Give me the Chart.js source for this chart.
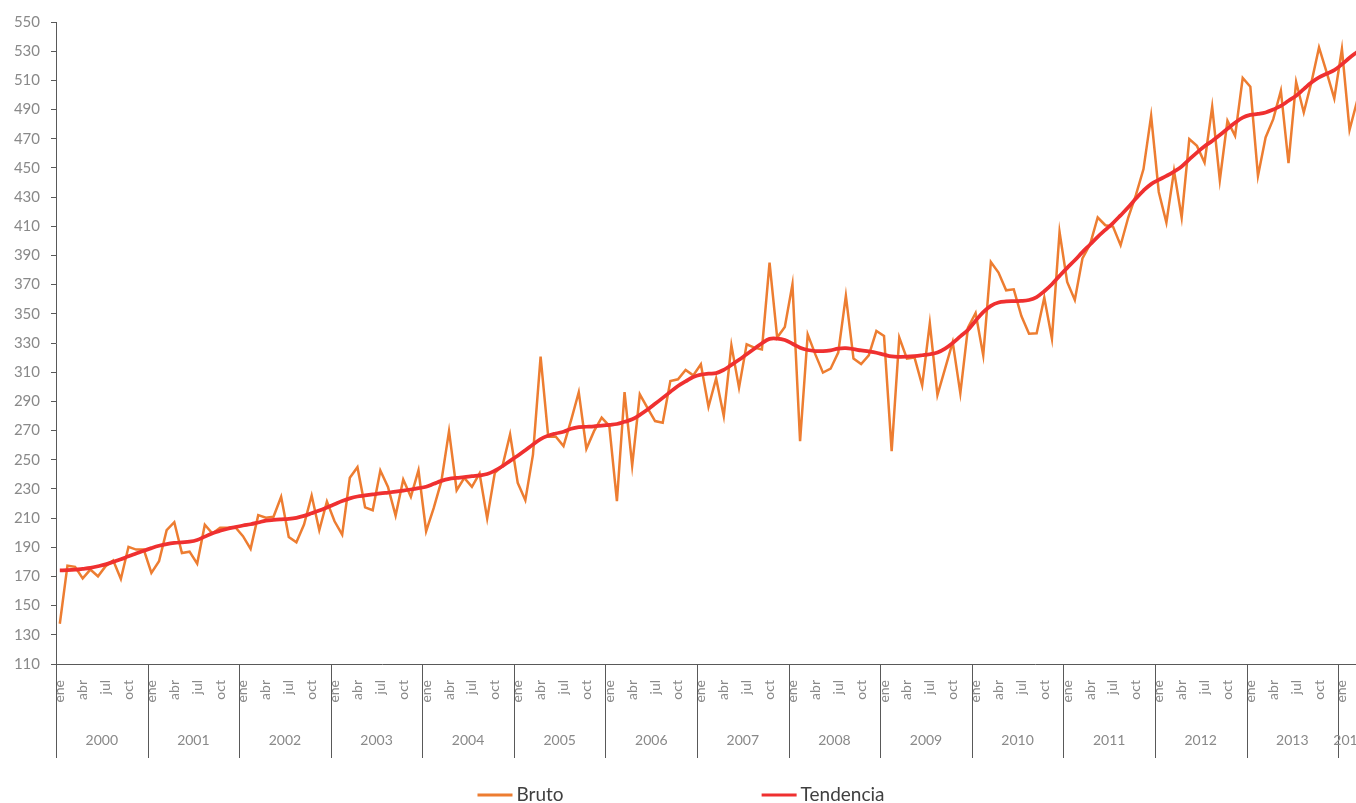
<!DOCTYPE html>
<html>
<head>
<meta charset="utf-8">
<script src="https://cdn.jsdelivr.net/npm/chart.js@4"></script>
<style>
  html, body { margin: 0; padding: 0; background: #fff; overflow: hidden; }
  #wrap { width: 1362px; height: 803px; }
</style>
</head>
<body>
<div id="wrap"><canvas id="myChart" width="1362" height="803"></canvas></div>
<script>
// categories
const years = ["2000","2001","2002","2003","2004","2005","2006","2007","2008","2009","2010","2011","2012","2013","2014"];
const months = ["ene","feb","mar","abr","may","jun","jul","ago","sep","oct","nov","dic"];

// y axis
const yMin = 110;
const yMax = 550;
const yStep = 20;

// series (one value per month, ene 2000 .. mar 2014)
const bruto = [
  137.6, 177.4, 176.6, 168.7, 174.7, 170.1, 177.0, 181.0, 168.3, 190.3, 188.4, 188.4,
  172.4, 180.4, 201.7, 207.2, 186.1, 187.0, 178.8, 205.4, 199.4, 203.3, 203.3, 203.7,
  197.6, 188.9, 212.0, 210.2, 210.9, 224.6, 197.1, 193.4, 205.6, 225.5, 201.7, 221.4,
  207.8, 198.7, 237.6, 244.9, 217.4, 215.4, 242.6, 231.4, 211.7, 236.4, 224.6, 242.8,
  201.0, 217.0, 235.3, 269.6, 229.1, 237.6, 231.4, 240.6, 209.7, 241.0, 245.6, 267.3,
  234.2, 222.3, 253.5, 320.6, 265.7, 265.7, 259.3, 277.1, 296.3, 257.5, 269.6, 278.8,
  273.2, 221.6, 296.3, 246.0, 294.8, 285.6, 276.5, 275.3, 303.9, 305.1, 311.5, 307.8,
  315.4, 286.3, 305.7, 279.9, 328.4, 299.4, 329.1, 326.8, 325.6, 385.1, 333.7, 341.0,
  370.2, 262.7, 335.9, 322.2, 309.7, 312.4, 323.4, 362.3, 319.3, 315.6, 321.5, 338.2,
  334.8, 255.9, 333.7, 319.3, 320.0, 301.0, 343.5, 294.3, 312.4, 330.6, 295.5, 340.5,
  350.5, 321.5, 385.5, 378.3, 366.1, 366.8, 348.5, 336.4, 336.6, 361.1, 333.0, 406.1,
  371.8, 359.5, 387.9, 397.7, 416.0, 410.7, 409.8, 397.0, 416.0, 431.3, 449.2, 485.7,
  433.5, 412.6, 448.0, 416.0, 469.7, 465.1, 453.7, 491.9, 441.6, 482.3, 472.0, 511.6,
  505.6, 444.5, 470.9, 483.4, 502.9, 453.2, 509.0, 488.0, 508.6, 532.6, 515.5, 497.6,
  531.5, 476.1, 496.0
];
const tendencia = [
  174.2, 174.3, 174.6, 175.2, 175.9, 177.0, 178.3, 180.0, 181.8, 183.8, 185.7, 187.6,
  189.4, 191.0, 192.2, 193.0, 193.4, 193.8, 195.0, 197.3, 199.6, 201.3, 202.7, 203.8,
  204.9, 205.8, 207.0, 208.2, 208.8, 209.2, 209.5, 210.2, 211.5, 213.3, 215.2, 217.3,
  219.5, 221.7, 223.5, 224.8, 225.5, 226.2, 226.9, 227.5, 228.1, 228.8, 229.6, 230.5,
  231.5, 233.5, 235.5, 236.9, 237.5, 238.0, 238.7, 239.3, 240.2, 242.5, 245.6, 249.2,
  252.7, 256.5, 260.5, 264.2, 266.5, 268.0, 269.2, 271.2, 272.3, 272.6, 272.9, 273.3,
  273.9, 274.5, 276.0, 277.7, 280.7, 284.3, 288.3, 292.4, 296.5, 300.5, 303.7, 306.7,
  308.3, 309.0, 309.4, 311.6, 315.0, 318.5, 322.3, 326.0, 329.8, 332.8, 333.0, 332.0,
  329.5, 326.8, 325.2, 324.5, 324.4, 325.0, 326.2, 326.5, 325.8, 324.9, 324.2, 323.3,
  322.0, 320.8, 320.5, 320.6, 321.0, 321.6, 322.3, 323.5, 326.2, 330.0, 334.5, 339.0,
  345.3, 351.2, 355.5, 357.8, 358.5, 358.7, 358.8, 359.5, 361.5, 365.5, 370.3, 376.0,
  381.5, 386.7, 392.3, 397.5, 402.8, 407.5, 412.2, 417.5, 423.0, 429.0, 434.5, 438.9,
  441.8, 444.5, 447.5, 451.0, 455.8, 460.5, 464.8, 468.5, 472.5, 476.8, 481.0, 484.5,
  486.3, 487.0, 488.0, 490.0, 492.5, 496.0, 499.5, 504.0, 508.5, 512.0, 514.5, 517.0,
  521.0, 525.5, 529.5
];

// build month labels from years x months
const labels = [];
years.forEach((y) => months.forEach((m) => labels.push(m)));
labels.length = bruto.length;

const axisColor = "#595959";
const tickColor = "#898989";

// year row + separators under the month labels
const yearAxis = {
  id: "yearAxis",
  afterDraw(chart) {
    const x = chart.scales.x;
    const ctx = chart.ctx;
    const half = (x.getPixelForValue(1) - x.getPixelForValue(0)) / 2;
    const top = chart.chartArea.bottom;
    ctx.save();
    ctx.strokeStyle = axisColor;
    ctx.lineWidth = 1;
    ctx.fillStyle = tickColor;
    ctx.font = "14px Lato";
    ctx.textAlign = "center";
    ctx.textBaseline = "middle";
    years.forEach((y, k) => {
      const first = k * 12;
      if (first >= labels.length) return;
      const last = Math.min(first + 11, labels.length - 1);
      const x0 = Math.round(x.getPixelForValue(first) - half) + 0.5;
      ctx.beginPath();
      ctx.moveTo(x0, top);
      ctx.lineTo(x0, top + 94);
      ctx.stroke();
      const cx = (x.getPixelForValue(first) + x.getPixelForValue(last)) / 2;
      ctx.fillText(y, cx, top + 76);
    });
    ctx.restore();
  }
};

// legend spread apart at the bottom
const wideLegend = {
  id: "wideLegend",
  afterDraw(chart) {
    const ctx = chart.ctx;
    const items = chart.data.datasets;
    const lineLen = 35, gap = 198, textGap = 4;
    ctx.save();
    ctx.font = "19px Lato";
    const widths = items.map((d) => lineLen + textGap + ctx.measureText(d.label).width);
    const total = widths.reduce((a, b) => a + b, 0) + gap * (items.length - 1);
    let left = chart.width / 2 - total / 2;
    const y = 795;
    items.forEach((d, i) => {
      ctx.strokeStyle = d.borderColor;
      ctx.lineWidth = 3;
      ctx.beginPath();
      ctx.moveTo(left, y);
      ctx.lineTo(left + lineLen, y);
      ctx.stroke();
      ctx.fillStyle = "#404040";
      ctx.textAlign = "left";
      ctx.textBaseline = "middle";
      ctx.fillText(d.label, left + lineLen + textGap, y);
      left += widths[i] + gap;
    });
    ctx.restore();
  }
};

const canvas = document.getElementById("myChart");
const chart = new Chart(canvas, {
  type: "line",
  data: {
    labels: labels,
    datasets: [
      {
        label: "Bruto",
        data: bruto,
        borderColor: "#ED7D31",
        borderWidth: 2.5,
        pointRadius: 0,
        tension: 0,
        order: 1,
      },
      {
        label: "Tendencia",
        data: tendencia,
        borderColor: "#EF3030",
        borderWidth: 3.75,
        pointRadius: 0,
        tension: 0.4,
        order: 0,
      },
    ],
  },
  options: {
    responsive: false,
    animation: false,
    layout: { padding: { top: 22, right: 1, bottom: 43, left: 0 } },
    plugins: {
      legend: { display: false },
      tooltip: { enabled: false },
    },
    scales: {
      x: {
        offset: true,
        grid: { display: false, drawTicks: false },
        border: { display: true, color: axisColor, width: 1 },
        ticks: {
          autoSkip: false,
          minRotation: 90,
          maxRotation: 90,
          padding: 16,
          color: tickColor,
          font: { family: "Lato", size: 14 },
          callback: function (val, index) {
            return index % 3 === 0 ? this.getLabelForValue(val) : "";
          },
        },
        afterFit: (s) => {
          s.height = 96;
          s.paddingLeft = 0;
          s.paddingRight = 0;
        },
      },
      y: {
        min: yMin,
        max: yMax,
        grid: { drawOnChartArea: false, drawTicks: true, tickLength: 5, color: axisColor },
        border: { display: true, color: axisColor, width: 1 },
        ticks: {
          stepSize: yStep,
          padding: 11,
          color: tickColor,
          font: { family: "Lato", size: 15 },
        },
        afterFit: (s) => { s.width = 56; },
      },
    },
  },
  plugins: [yearAxis, wideLegend],
});
</script>
</body>
</html>
